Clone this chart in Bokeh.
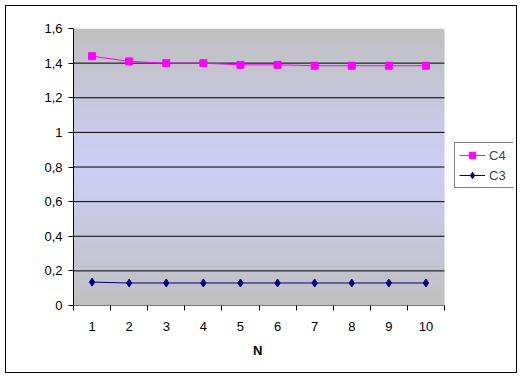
import numpy as np
from bokeh.plotting import figure
from bokeh.models import FixedTicker, Legend, LegendItem, CustomJSTickFormatter, Title
from bokeh.embed import file_html
from bokeh.resources import INLINE

# ---- data ----
n_values = [1, 2, 3, 4, 5, 6, 7, 8, 9, 10]
c4 = [1.44, 1.41, 1.40, 1.40, 1.39, 1.39, 1.385, 1.385, 1.385, 1.385]
c3 = [0.135, 0.13, 0.13, 0.13, 0.13, 0.13, 0.13, 0.13, 0.13, 0.13]
y_ticks = [0, 0.2, 0.4, 0.6, 0.8, 1.0, 1.2, 1.4, 1.6]
x_label = "N"

X0, X1 = 0.5, 10.5
Y0, Y1 = 0.0, 1.6
FONT = "Liberation Sans"

PLOT_W = 371      # width of the data area in px
FRAME_W = 440     # frame extended to hold the legend on the right
X_END = X0 + (X1 - X0) * FRAME_W / PLOT_W

p = figure(frame_width=FRAME_W, frame_height=277, output_backend="svg", toolbar_location=None,
           x_range=(X0, X_END), y_range=(Y0, Y1),
           min_border_left=67, min_border_top=22, min_border_right=3, min_border_bottom=67,
           styles={"border": "1px solid black", "margin": "5px 0 0 5px"})
p.background_fill_color = None
p.border_fill_color = "white"
p.outline_line_color = None

# background gradient: gray at top/bottom, lavender in middle
rows = 256
t = np.linspace(0, 1, rows)
w = 1 - np.abs(t - 0.5) * 2
gray = np.array([192, 192, 192])
lav = np.array([206, 206, 248])
cols = (gray[None, :] * (1 - w[:, None]) + lav[None, :] * w[:, None]).astype(np.uint32)
img = np.empty((rows, 1), dtype=np.uint32)
view = img.view(dtype=np.uint8).reshape((rows, 1, 4))
view[:, 0, 0] = cols[:, 0]
view[:, 0, 1] = cols[:, 1]
view[:, 0, 2] = cols[:, 2]
view[:, 0, 3] = 255
p.image_rgba(image=[img], x=X0, y=Y0, dw=X1 - X0, dh=Y1 - Y0, level="image")

# horizontal grid lines limited to the data area
p.xgrid.visible = False
p.ygrid.visible = False
gy = [v for v in y_ticks if 0 < v < Y1]
p.segment(x0=[X0] * len(gy), x1=[X1] * len(gy), y0=gy, y1=gy, line_color="black", line_width=1)
# x axis line limited to data area
p.segment(x0=[X0], x1=[X1], y0=[Y0], y1=[Y0], line_color="black", line_width=1)

# series
l4 = p.line(n_values, c4, line_color="#ff00ff", line_width=1)
m4 = p.scatter(n_values, c4, marker="square", size=7, fill_color="#ff00ff", line_color="#ff00ff")
l3 = p.line(n_values, c3, line_color="#000080", line_width=1)
m3 = p.scatter(n_values, c3, marker="diamond", size=8, fill_color="#000080", line_color="#000080")

# axes
p.xaxis.ticker = FixedTicker(ticks=n_values, minor_ticks=[v + 0.5 for v in [0] + n_values])
p.xaxis.major_tick_out = 0
p.xaxis.major_tick_in = 0
p.xaxis.minor_tick_out = 5
p.xaxis.minor_tick_in = 0
p.xaxis.minor_tick_line_color = "black"
p.xaxis.axis_line_color = None
p.xaxis.major_label_standoff = 11

p.yaxis.ticker = FixedTicker(ticks=y_ticks, minor_ticks=[])
p.yaxis.major_tick_out = 5
p.yaxis.major_tick_in = 0
p.yaxis.major_tick_line_color = "black"
p.yaxis.axis_line_color = "black"
p.yaxis.major_label_standoff = 6
p.yaxis.formatter = CustomJSTickFormatter(code="""
    if (Math.abs(tick) < 1e-9) return "0";
    if (Math.abs(tick - Math.round(tick)) < 1e-9) return String(Math.round(tick));
    return tick.toFixed(1).replace('.', ',');
""")

for ax in (p.xaxis[0], p.yaxis[0]):
    ax.major_label_text_font = FONT
    ax.major_label_text_font_size = "13px"
    ax.major_label_text_color = "black"

# x axis title, centred under the data area
xt = Title(text=x_label, align="left", offset=PLOT_W / 2 - 8,
           text_font=FONT, text_font_size="13px", text_font_style="bold",
           text_color="black", standoff=11, padding=2)
p.add_layout(xt, "below")

legend = Legend(items=[LegendItem(label="C4", renderers=[l4, m4]),
                       LegendItem(label="C3", renderers=[l3, m3])],
                location=(381, 117))
legend.border_line_color = "black"
legend.border_line_width = 1
legend.background_fill_color = "white"
legend.background_fill_alpha = 1
legend.label_text_font = FONT
legend.label_text_font_size = "13px"
legend.glyph_width = 26
legend.glyph_height = 16
legend.label_standoff = 4
legend.padding = 4
legend.spacing = 4
legend.margin = 0
legend.label_height = 16
p.add_layout(legend, "center")

open("out.html", "w").write(file_html(p, INLINE))
